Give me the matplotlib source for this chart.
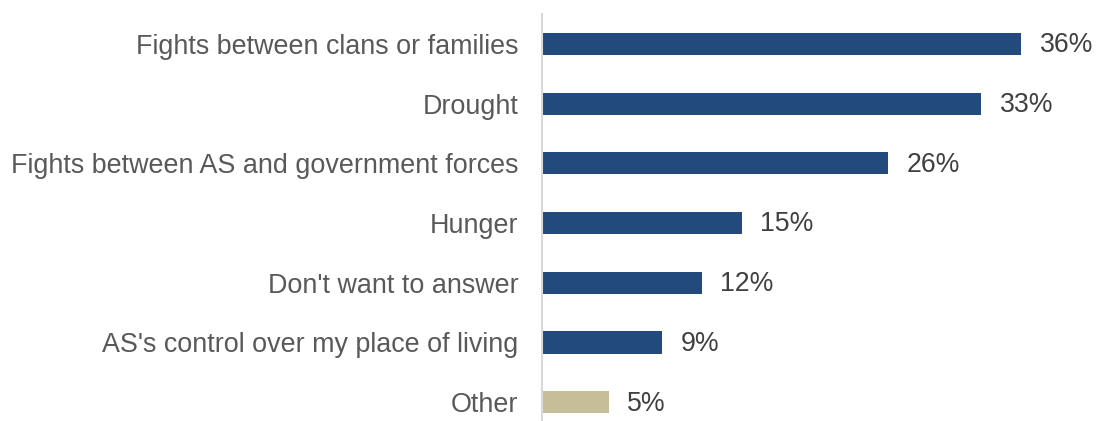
import matplotlib
matplotlib.use("Agg")
import matplotlib.pyplot as plt

categories = [
    "Fights between clans or families",
    "Drought",
    "Fights between AS and government forces",
    "Hunger",
    "Don't want to answer",
    "AS's control over my place of living",
    "Other",
]
values = [36, 33, 26, 15, 12, 9, 5]
colors = ["#224A7C"] * 6 + ["#C6BE98"]

plt.rcParams["font.family"] = ["Liberation Sans", "DejaVu Sans"]

fig = plt.figure(figsize=(10.96, 4.21), dpi=100)
ax = fig.add_axes([542 / 1096, 0.0, 1 - 542 / 1096 - 0.02, 1 - 14 / 421])

ypos = list(range(len(categories)))
bars = ax.barh(ypos, values, height=0.37, color=colors)

for y, v in zip(ypos, values):
    ax.annotate(f"{v}%", xy=(v, y), xytext=(13.5, -1), textcoords="offset points",
                va="center", ha="left", fontsize=19.2, color="#404040")

ax.set_yticks(ypos)
ax.set_yticklabels(categories, fontsize=19.4, color="#595959")
for lbl in ax.get_yticklabels():
    lbl.set_y(lbl.get_position()[1])
ax.tick_params(axis="y", length=0, pad=17)
ax.set_xticks([])
ax.set_xlim(0, 40)
ax.set_ylim(6.315, -0.5)

for side in ["top", "right", "bottom"]:
    ax.spines[side].set_visible(False)
ax.spines["left"].set_color("#D9D9D9")
ax.spines["left"].set_linewidth(1.5)

fig.savefig("out.png", dpi=100)
